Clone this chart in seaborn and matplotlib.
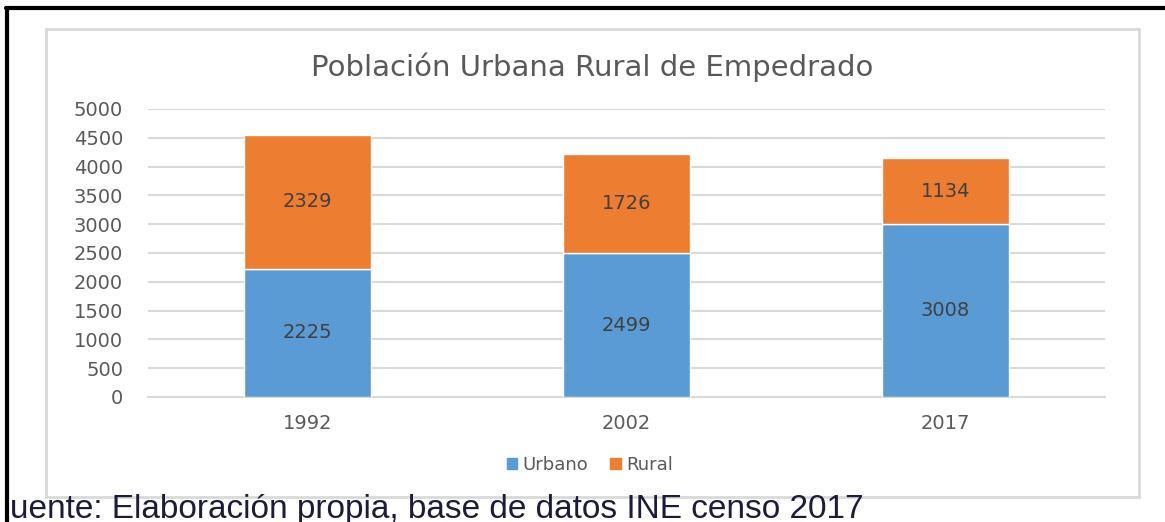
import pandas as pd
import matplotlib.pyplot as plt
import seaborn as sns
from matplotlib.patches import Patch, Rectangle
from matplotlib.lines import Line2D

# Data
years = ["1992", "2002", "2017"]
urbano = [2225, 2499, 3008]
rural = [2329, 1726, 1134]
yticks = [0, 500, 1000, 1500, 2000, 2500, 3000, 3500, 4000, 4500, 5000]

BLUE = "#5B9BD5"
ORANGE = "#ED7D31"
GRID = "#D9D9D9"
TXT = "#595959"

df = pd.DataFrame({"year": years, "Urbano": urbano, "Rural": rural})

sns.set_style("white")
plt.rcParams["font.family"] = ["DejaVu Sans"]

fig = plt.figure(figsize=(11.65, 5.22), dpi=100)
ax = fig.add_axes([148 / 1165, 1 - 397 / 522, (1105 - 148) / 1165, (397 - 109) / 522])

sns.barplot(data=df, x="year", y="Urbano", color=BLUE, width=0.4, ax=ax,
            saturation=1, zorder=3)
sns.barplot(data=df, x="year", y="Rural", color=ORANGE, width=0.4, ax=ax,
            saturation=1, bottom=df["Urbano"], zorder=3)

for c in ax.containers:
    ax.bar_label(c, label_type="center", color="#404040", fontsize=14)

ax.set_xlim(-0.5, 2.5)
ax.set_ylim(0, 5000)
ax.set_yticks(yticks)
ax.yaxis.grid(True, color=GRID, linewidth=1.5, zorder=0)
ax.set_xlabel("")
ax.set_ylabel("")
for s in ["top", "right", "left"]:
    ax.spines[s].set_visible(False)
ax.spines["bottom"].set_color(GRID)
ax.spines["bottom"].set_linewidth(1.5)
ax.tick_params(axis="y", length=0, pad=18, labelsize=14, labelcolor=TXT)
ax.tick_params(axis="x", length=0, pad=12, labelsize=14, labelcolor=TXT)

fig.text(592 / 1165, 1 - 67 / 522, "Población Urbana Rural de Empedrado",
         ha="center", va="center", fontsize=21, color=TXT)

handles = [Patch(color=BLUE, label="Urbano"), Patch(color=ORANGE, label="Rural")]
fig.legend(handles=handles, loc="center", bbox_to_anchor=(590 / 1165, 1 - 465 / 522),
           ncol=2, frameon=False, fontsize=13, labelcolor=TXT,
           handlelength=0.6, handleheight=0.6, handletextpad=0.3, columnspacing=1.2)

# light chart border
fig.add_artist(Rectangle((46 / 1165, 1 - 497 / 522), 1093 / 1165, 468 / 522,
                         transform=fig.transFigure, fill=False,
                         edgecolor=GRID, linewidth=2))

# black frame of the document page
fig.add_artist(Line2D([6 / 1165, 1], [1 - 8 / 522, 1 - 8 / 522],
                      transform=fig.transFigure, color="black", linewidth=3))
fig.add_artist(Line2D([7 / 1165, 7 / 1165], [0, 1 - 8 / 522],
                      transform=fig.transFigure, color="black", linewidth=3))

fig.text(10 / 1165, 4 / 522, "uente: Elaboración propia, base de datos INE censo 2017",
         ha="left", va="baseline", fontsize=24, color="#1c1c3a",
         family=["Liberation Sans", "DejaVu Sans"])

fig.savefig("out.png", dpi=100)
